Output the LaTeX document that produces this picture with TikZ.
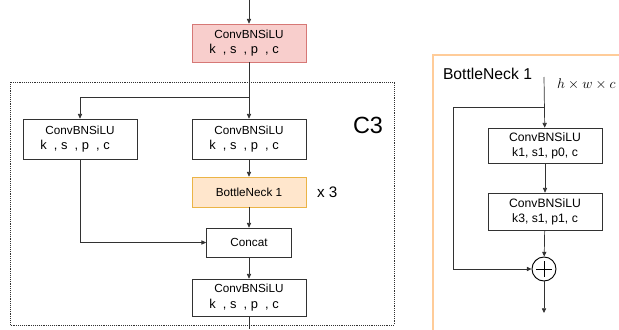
\documentclass[tikz,border=0pt]{standalone}
\usepackage{fontspec}
\setmainfont{Liberation Sans}
\usetikzlibrary{arrows.meta}
\definecolor{convred}{RGB}{248,206,204}
\definecolor{convredline}{RGB}{214,120,118}
\definecolor{neckfill}{RGB}{255,230,204}
\definecolor{neckline}{RGB}{235,180,70}
\definecolor{panelline}{RGB}{255,204,153}
\definecolor{wire}{RGB}{50,50,50}
\newcommand{\kspc}{{\fontsize{11}{13}\selectfont k\ \ ,\ s\ \ ,\ p\ \ ,\ c}\hspace*{.3cm}}
\tikzset{
    block/.style={draw=wire, line width=.6pt, fill=white, align=center,
        minimum width=3.42cm, minimum height=1.2cm, inner sep=1pt,
        font=\fontsize{10}{13}\selectfont},
    flow/.style={draw=wire, line width=.6pt, -{Triangle[length=4pt,width=3.6pt]}},
    wireline/.style={draw=wire, line width=.6pt}
}
\begin{document}
\begin{tikzpicture}[x=.03cm, y=-.03cm]
    \useasboundingbox (0,0) rectangle (619,329);
    \clip (0,0) rectangle (619,329);
    % C3 frame
    \draw[wire, line width=.6pt, densely dotted] (10,82) rectangle (394,325);
    \node[font=\fontsize{20}{20}\selectfont] (ctitle) at (368,125) {C3};
    % Stem
    \coordinate (cin) at (249,0);
    \node[block, fill=convred, draw=convredline, minimum height=1.14cm] (stem) at (249,43)
        {ConvBNSiLU\\\kspc};
    \coordinate (split) at (249,97);
    % Two branches
    \node[block] (left) at (80,139) {ConvBNSiLU\\\kspc};
    \node[block] (right) at (249,139) {ConvBNSiLU\\\kspc};
    \node[block, fill=neckfill, draw=neckline, minimum height=.9cm] (neck) at (249,192)
        {BottleNeck 1};
    \node[font=\fontsize{13}{13}\selectfont, anchor=west] (times) at (313,192) {x 3};
    \node[block, minimum width=2.55cm, minimum height=.87cm] (concat) at (249,242.5) {Concat};
    \node[block, minimum height=1.11cm] (out) at (249,297.5) {ConvBNSiLU\\\kspc};
    \coordinate (cout) at (249,329);
    \draw[flow] (cin) -- (stem);
    \draw[wireline] (stem) -- (split);
    \draw[flow] (split) -- (right);
    \draw[flow] (split) -| (left);
    \draw[flow] (right) -- (neck);
    \draw[flow] (neck) -- (concat);
    \draw[flow] (left) |- (concat);
    \draw[flow] (concat) -- (out);
    \draw[wireline] (out) -- (cout);
    % BottleNeck panel
    \draw[panelline, line width=1pt] (433,55) rectangle (640,345);
    \node[font=\fontsize{13.4}{14}\selectfont] (ntitle) at (487.5,74) {BottleNeck 1};
    \coordinate (nin) at (544,77);
    \node[anchor=west, font=\fontsize{12.5}{12.5}\selectfont] (shape) at (553,84) {$h\times w\times c$};
    \coordinate (skip) at (544,107);
    \coordinate (skipturn) at (453,107);
    \node[block, minimum height=1.05cm, font=\fontsize{10.4}{13}\selectfont] (conva) at (545,145.5)
        {ConvBNSiLU\\k1, s1, p0, c};
    \node[block, minimum height=1.11cm, font=\fontsize{10.4}{13}\selectfont] (convb) at (545,211.5)
        {ConvBNSiLU\\k3, s1, p1, c};
    \node[draw=black, line width=.8pt, circle, minimum size=.72cm, inner sep=0pt] (sum) at (544,269) {};
    \draw[line width=.8pt] (sum.center) ++(-8,0) -- ++(16,0) (sum.center) ++(0,-8) -- ++(0,16);
    \coordinate (nout) at (544,313);
    \draw[flow] (nin) -- (conva);
    \draw[flow] (conva) -- (convb);
    \draw[flow] (convb) -- (sum);
    \draw[flow] (skip) -- (skipturn) |- (sum);
    \draw[flow] (sum) -- (nout);
\end{tikzpicture}
\end{document}
